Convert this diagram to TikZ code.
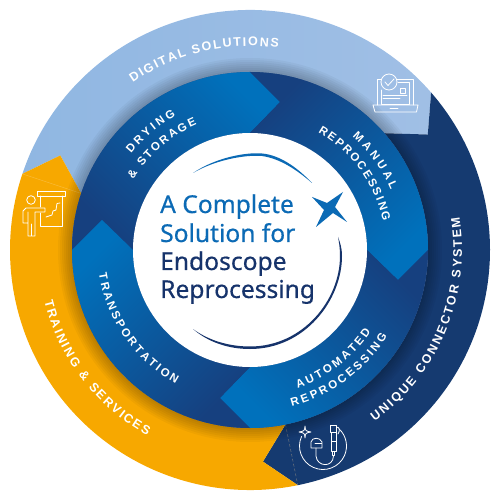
\documentclass[tikz,border=0pt]{standalone}
\usepackage{fontspec}
\setmainfont{Liberation Sans}
\newfontfamily\titlefont[FakeBold=0.5]{Noto Sans}
\usetikzlibrary{decorations.text}
\definecolor{Ring_Light}{HTML}{90B7E2}
\definecolor{Ring_LightEnd}{HTML}{A0BFE5}
\definecolor{Ring_Navy}{HTML}{153A70}
\definecolor{Ring_Orange}{HTML}{F7A800}
\definecolor{Arrow_Blue}{HTML}{0071BC}
\definecolor{Arrow_Navy}{HTML}{16407F}
\definecolor{Title_Blue}{HTML}{0B6AB5}
\definecolor{Title_Navy}{HTML}{16336B}
\newcommand{\outerfont}{\bfseries\fontsize{12.5}{14}\selectfont}
\newcommand{\innerfont}{\bfseries\fontsize{11.5}{13}\selectfont}

\begin{document}
\begin{tikzpicture}[
  x=1pt, y=1pt,
  px/.style={shift={(-250,250)}, y=-1pt},
  lightseg/.style={left color=Ring_Light, right color=Ring_LightEnd},
  navyseg/.style={fill=Ring_Navy},
  orangeseg/.style={fill=Ring_Orange},
  outerlabel/.style={decorate, decoration={text along path, text align=fit to path,
    text color=white, text={|\outerfont|#1}}},
  innerlabel/.style={decorate, decoration={text along path, text align=fit to path,
    text color=white, text={|\innerfont|#1}}},
  title/.style={anchor=base west, inner sep=0pt, font=\titlefont\fontsize{24.6}{28}\selectfont},
  icon/.style={draw=white, line width=0.8pt, line join=round, line cap=round}
]
  \useasboundingbox (-250,-250) rectangle (250,250);

  % Outer ring, three arrows
  \foreach \from/\to/\sty in {161.5/41/lightseg, 41/-78.5/navyseg, -78.5/-198.5/orangeseg}
    \path[\sty] (\from:240) arc[start angle=\from, end angle=\to, radius=240]
      -- (\to-8:212) -- (\to:178) arc[start angle=\to, end angle=\from, radius=178]
      -- (\from-8:212) -- cycle;

  % Seams between the outer arrows
  \draw[white, opacity=0.25, thin] (161.5:240) -- (161.5:178);
  \draw[gray, thin, densely dashed] (-78.5:178) -- (-78.5:240);

  % Soft shadow of the inner ring
  \foreach \d in {2,4,...,14}
    \fill[black, opacity=0.035] (0,0) circle[radius=178+\d];

  % Inner ring, four arrows
  \fill[Arrow_Navy] (0,0) circle[radius=178];
  \foreach \from/\to/\turn in {180/90/-45, 90/0/-135, 0/-90/135, -90/-180/45}
    \path[top color=Arrow_Blue, bottom color=Arrow_Navy, shading angle=\turn]
      (\from:178) arc[start angle=\from, end angle=\to, radius=178]
      -- (\to-11.5:151) -- (\to:117) arc[start angle=\to, end angle=\from, radius=117]
      -- (\from-11.5:151) -- cycle;

  % Centre
  \fill[white] (0,0) circle[radius=117];
  \node[title, Title_Blue] (lineone) at (-90,37) {A Complete};
  \node[title, Title_Blue] (linetwo) at (-90,8) {Solution for};
  \node[title, Title_Navy] (linethree) at (-90,-20) {Endoscope};
  \node[title, Title_Navy] (linefour) at (-90,-48) {Reprocessing};

  % Ring labels
  \path[outerlabel={DIGITAL SOLUTIONS}] (125:204) arc[start angle=125, end angle=82, radius=204];
  \path[outerlabel={UNIQUE CONNECTOR SYSTEM}] (-54:212) arc[start angle=-54, end angle=9, radius=212];
  \path[outerlabel={TRAINING {\&} SERVICES}] (194:212) arc[start angle=194, end angle=241, radius=212];
  \path[innerlabel={DRYING}] (141:153) arc[start angle=141, end angle=119, radius=153];
  \path[innerlabel={{\&} STORAGE}] (149:136) arc[start angle=149, end angle=113, radius=136];
  \path[innerlabel={MANUAL}] (48:153) arc[start angle=48, end angle=23, radius=153];
  \path[innerlabel={REPROCESSING}] (60:136) arc[start angle=60, end angle=12, radius=136];
  \path[innerlabel={AUTOMATED}] (-71:146) arc[start angle=-71, end angle=-34, radius=146];
  \path[innerlabel={REPROCESSING}] (-75:162) arc[start angle=-75, end angle=-32, radius=162];
  \path[innerlabel={TRANSPORTATION}] (189:153) arc[start angle=189, end angle=241, radius=153];

  % Connector icon, big circle
  \draw[icon] (73,-196) ++(156:23.5) arc[start angle=156, end angle=407, radius=23.5];

  \begin{scope}[px]
    % Swooshes and star around the title
    \fill[Title_Blue] (193,173) .. controls (215,158) and (245,152) .. (262,153.5)
      .. controls (280,155) and (298,168) .. (312,183)
      .. controls (297,170) and (280,158.5) .. (262,156)
      .. controls (245,154.5) and (215,160) .. (193,173) -- cycle;
    \fill[Title_Navy] (193,329) .. controls (208,342) and (228,349) .. (250,349)
      .. controls (305,349) and (342,300) .. (342,256)
      .. controls (342,248) and (340,242) .. (338,237)
      .. controls (339,242) and (340,248) .. (340,256)
      .. controls (340,300) and (303,346.5) .. (250,346.5)
      .. controls (228,346.5) and (208,340) .. (193,329) -- cycle;
    \fill[Title_Blue] (312,197) -- (327,203) -- (343,192) -- (335,207) -- (347,222)
      -- (333,213) -- (316,227) -- (324,210) -- cycle;

    % Presentation icon
    \draw[icon] (31,200) circle[radius=4.3];
    \draw[icon] (23,223) -- (23,211) -- (26,208) -- (45,208) -- (45,212) -- (35,212)
      -- (35,236) -- (28,236) -- (28,212) (28,223) -- (23,223) (31.5,224) -- (31.5,236);
    \draw[icon] (37,191) rectangle (65,196);
    \draw[icon] (40,196) -- (40,207) (40,213) -- (40,226) -- (62,226) -- (62,196);
    \draw[icon] (46,217) -- (52,215) -- (53,211) -- (56,210) -- (57,203.5) -- (60,203);

    % Laptop icon
    \draw[icon] (389,82) circle[radius=8];
    \draw[icon] (385,82) -- (388,85.5) -- (394,79);
    \draw[icon] (381,79) -- (377,79) -- (377,105) (397,79) -- (413,79) -- (413,105);
    \draw[icon] (381,90) -- (381,104.5) -- (409,104.5) -- (409,82) -- (398,82);
    \draw[icon] (373,105) -- (418,105) -- (416.5,112) -- (375,112) -- cycle;
    \draw[icon] (383,95.7) -- (407,95.7) (383,98.5) -- (400,98.5) (390,108.5) -- (398,108.5);
    \draw[icon] (400,88) rectangle (405,93);

    % Connector icon
    \draw[icon] (305,426) .. controls (305.5,431) .. (311,432) .. controls (305.5,433) .. (305,438)
      .. controls (304.5,433) .. (299,432) .. controls (304.5,431) .. (305,426) -- cycle;
    \draw[icon] (311,448) -- (311,442) .. controls (312,437) and (320,437) .. (322,442)
      -- (322,448) -- cycle (315,443.5) -- (322,443.5);
    \draw[icon] (316,448) -- (316,456) .. controls (317,467) and (333,468) .. (333.5,456);
    \draw[icon] (330.5,425) rectangle (336.5,432);
    \draw[icon] (331.5,432) rectangle (336,451) (331.5,441) -- (336,441);
    \draw[icon] (332.5,451) rectangle (334.5,455);
    \draw[icon] (336.5,427) .. controls (340,427) and (340,431) .. (338,434);
  \end{scope}
\end{tikzpicture}
\end{document}
